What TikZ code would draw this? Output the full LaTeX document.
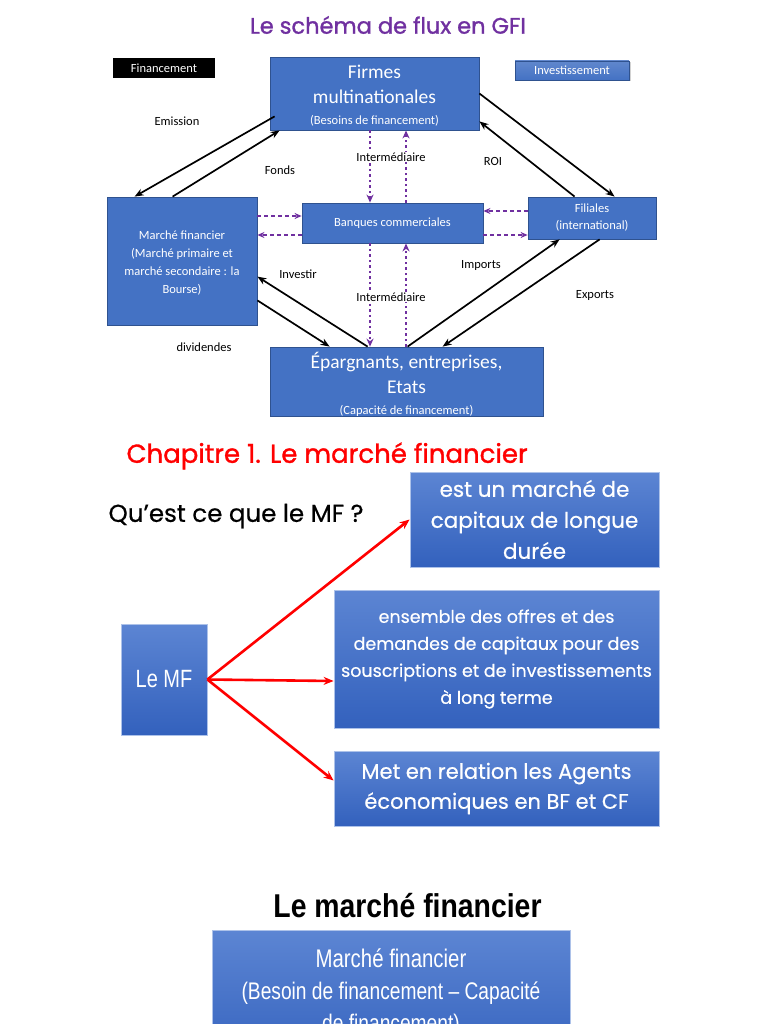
\documentclass[tikz,border=0pt]{standalone}
\usepackage{fontspec}
\setmainfont{Carlito}
\newfontfamily\roundf[FakeBold=0.5]{Poppins}
\newfontfamily\roundfb[FakeBold=1.2]{Poppins}
\newfontfamily\narrowf[FakeStretch=0.8]{Liberation Sans}
\newfontfamily\narrowbf[FakeStretch=0.86]{Liberation Sans Bold}
\usetikzlibrary{arrows.meta,shadows}
\definecolor{boxblue}{HTML}{4472C4}
\definecolor{boxborder}{HTML}{2F528F}
\definecolor{purp}{HTML}{7030A0}
\definecolor{gtop}{HTML}{5C85D3}
\definecolor{gbot}{HTML}{3361BD}
\tikzset{
  bluebox/.style={draw=boxborder, fill=boxblue, text=white, align=center, inner sep=0pt, line width=0.8pt},
  boxtext/.style={text=white, align=center, inner sep=0pt},
  gradbox/.style={draw=gtop!50!white, top color=gtop, bottom color=gbot, text=white, align=center, inner sep=0pt, line width=0.8pt,
     drop shadow={shadow xshift=1.2pt, shadow yshift=-1.2pt, opacity=0.25}},
  blackarrow/.style={-{Stealth[length=9pt,width=7pt]}, line width=1.7pt},
  purpdash/.style={-{Stealth[length=7pt,width=6pt]}, purp, line width=1.6pt, dash pattern=on 4pt off 3pt},
  purpdot/.style={-{Stealth[length=8pt,width=7pt]}, purp, line width=2.2pt, dash pattern=on 2.5pt off 3pt},
  redarrow/.style={-{Stealth[length=10pt,width=8pt]}, red, line width=2.6pt},
  lbl/.style={font=\fontsize{12.5}{15}\selectfont, inner sep=1pt},
}
\begin{document}
\begin{tikzpicture}[x=1pt,y=-1pt]
\useasboundingbox (0,0) rectangle (768,1024);
\clip (0,0) rectangle (768,1024);
\fill[white] (0,0) rectangle (768,1024);

% ---------- top diagram ----------
\node[text=purp, font=\roundfb\fontsize{22.5}{26}\selectfont] (title) at (388,25) {Le schéma de flux en GFI};

\node[fill=black, text=white, minimum width=102pt, minimum height=20pt, inner sep=0pt, font=\fontsize{12.5}{15}\selectfont] (fin) at (164,68) {Financement};
\node[draw=boxborder, line width=0.8pt, top color=boxblue!85!white, bottom color=boxblue, text=white, inner sep=0pt,
      minimum width=114pt, minimum height=19pt, font=\fontsize{12.5}{15}\selectfont,
      drop shadow={shadow xshift=1.5pt, shadow yshift=-1.5pt, opacity=0.35}] (inv) at (572,70.5) {Investissement};

\node[bluebox, minimum width=209pt, minimum height=73pt] (firmes) at (374.5,93.5) {};
\node[boxtext, font=\fontsize{19.5}{25}\selectfont] (firmestxt) at (374.5,96)
  {Firmes\\multinationales\\[-4pt]{\fontsize{12.5}{15}\selectfont (Besoins de financement)}};
\node[bluebox, minimum width=150pt, minimum height=128pt] (mf) at (182,261) {};
\node[boxtext, font=\fontsize{12.5}{17.7}\selectfont] (mftxt) at (182,263)
  {Marché financier\\(Marché primaire et\\marché secondaire : la\\Bourse)};
\node[bluebox, minimum width=181pt, minimum height=40pt, font=\fontsize{12.5}{15}\selectfont] (banques) at (392.5,223) {Banques commerciales};
\node[bluebox, minimum width=128pt, minimum height=42pt, font=\fontsize{12.5}{17}\selectfont] (filiales) at (592,218) {Filiales\\(international)};
\node[bluebox, minimum width=273pt, minimum height=69pt] (ep) at (406.5,381.5) {};
\node[boxtext, font=\fontsize{19.5}{25}\selectfont] (eptxt) at (406.5,384)
  {Épargnants, entreprises,\\Etats\\[-4pt]{\fontsize{12.5}{15}\selectfont (Capacité de financement)}};

% black arrows
\draw[blackarrow] ([shift={(5,-14)}]firmes.south west) -- ([xshift=28pt]mf.north west);
\draw[blackarrow] ([xshift=66pt]mf.north west) -- ([xshift=10pt]firmes.south west);
\draw[blackarrow] (firmes.east) -- ([xshift=87pt]filiales.north west);
\draw[blackarrow] ([xshift=47pt]filiales.north west) -- ([yshift=9pt]firmes.south east);
\draw[blackarrow] ([yshift=25pt]mf.south east) -- ([xshift=60pt]ep.north west);
\draw[blackarrow] ([xshift=98pt]ep.north west) -- ([yshift=-80pt]mf.north east);
\draw[blackarrow] ([xshift=138pt]ep.north west) -- ([xshift=32pt]filiales.south west);
\draw[blackarrow] ([xshift=72pt]filiales.south west) -- ([xshift=173pt]ep.north west);

% purple vertical dotted
\draw[purpdot] ([xshift=-4.5pt]firmes.south) -- ([xshift=-22.5pt]banques.north);
\draw[purpdot] ([xshift=13.5pt]banques.north) -- ([xshift=31.5pt]firmes.south);
\draw[purpdot] ([xshift=-22.5pt]banques.south) -- ([xshift=-36.5pt]ep.north);
\draw[purpdot] ([xshift=-0.5pt]ep.north) -- ([xshift=13.5pt]banques.south);
% purple horizontal dashed
\draw[purpdash] ([yshift=45pt]mf.east) -- ([yshift=7pt]banques.west);
\draw[purpdash] ([yshift=-12pt]banques.west) -- ([yshift=26pt]mf.east);
\draw[purpdash] ([yshift=7pt]filiales.west) -- ([yshift=12pt]banques.east);
\draw[purpdash] ([yshift=-12pt]banques.east) -- ([yshift=-17pt]filiales.west);

% labels
\node[lbl] (lemission) at (177,121) {Emission};
\node[lbl] (lfonds) at (280,170) {Fonds};
\node[lbl, fill=white] (linter1) at (391,157) {Intermédiaire};
\node[lbl] (lroi) at (493,161) {ROI};
\node[lbl] (linvestir) at (298,274) {Investir};
\node[lbl] (limports) at (481,265) {Imports};
\node[lbl, fill=white] (linter2) at (391,297) {Intermédiaire};
\node[lbl] (lexports) at (595,295) {Exports};
\node[lbl] (ldiv) at (204,347) {dividendes};

% ---------- chapter section ----------
\node[text=red, font=\roundfb\fontsize{26}{30}\selectfont, anchor=west] (chap) at (123,456) {Chapitre 1. Le marché financier};
\node[font=\roundf\fontsize{24.5}{28}\selectfont, anchor=west] (quest) at (105,516) {Qu’est ce que le MF ?};

\node[gradbox, minimum width=249pt, minimum height=95pt, font=\roundf\fontsize{21.5}{31}\selectfont] (b1) at (534.5,519.5)
  {est un marché de\\capitaux de longue\\durée};
\node[gradbox, minimum width=325pt, minimum height=138pt, font=\roundf\fontsize{17.5}{27}\selectfont] (b2) at (496.5,659)
  {ensemble des offres et des\\demandes de capitaux pour des\\souscriptions et de investissements\\à long terme};
\node[gradbox, minimum width=325pt, minimum height=75pt, font=\roundf\fontsize{21}{30}\selectfont] (b3) at (496.5,788.5)
  {Met en relation les Agents\\économiques en BF et CF};
\node[gradbox, minimum width=86pt, minimum height=111pt, font=\narrowf\fontsize{25}{30}\selectfont] (lemf) at (164,679.5) {Le MF};

\draw[redarrow] (lemf.east) -- (b1.west);
\draw[redarrow] (lemf.east) -- ([yshift=-22pt]b2.west);
\draw[redarrow] (lemf.east) -- ([yshift=8pt]b3.west);

% ---------- bottom section ----------
\node[font=\narrowbf\fontsize{33}{38}\selectfont] (lmf2) at (407.5,906) {Le marché financier};
\node[gradbox, minimum width=358pt, minimum height=140pt, anchor=north] (mfbox) at (391,930) {};
\node[text=white, align=center, inner sep=0pt, font=\narrowf\fontsize{24}{32}\selectfont] (mfboxtxt) at (391,993)
  {{\fontsize{25.5}{31}\selectfont Marché financier}\\(Besoin de financement – Capacité\\de financement)};
\end{tikzpicture}
\end{document}
